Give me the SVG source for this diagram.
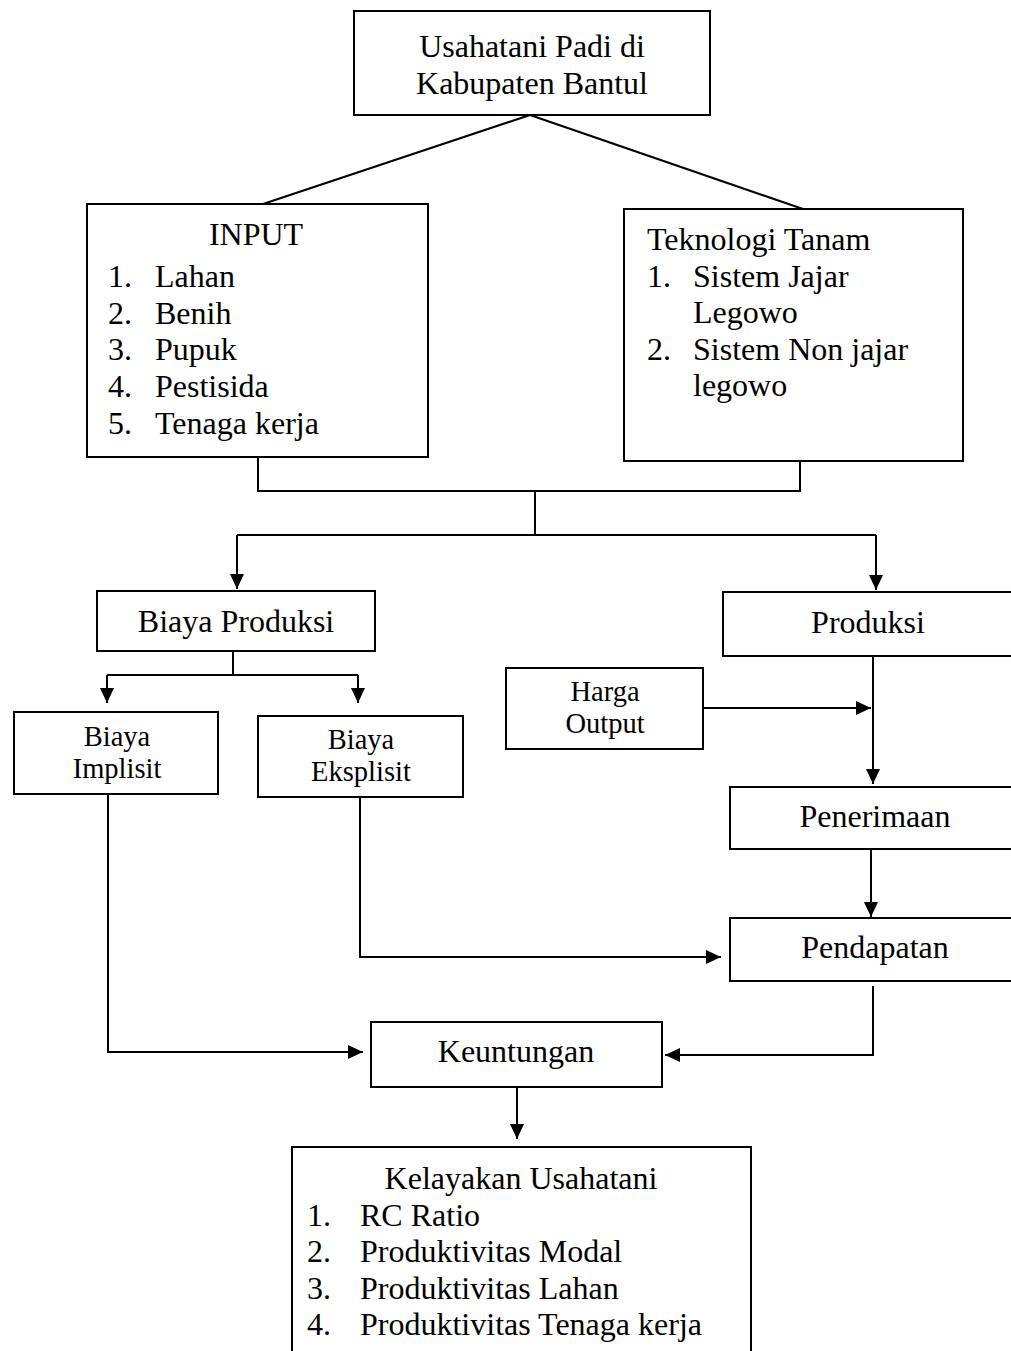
<svg xmlns="http://www.w3.org/2000/svg" width="1011" height="1351" viewBox="0 0 1011 1351">
<defs>
<style>
.box{fill:#fff;stroke:#000;stroke-width:2}
.ln{fill:none;stroke:#000;stroke-width:2}
text{font-family:"Liberation Serif","Times New Roman",serif;font-size:32px;fill:#000}
.c{text-anchor:middle}
.t2{font-size:28.5px}
</style>
<marker id="ah" markerUnits="userSpaceOnUse" markerWidth="16" markerHeight="16" viewBox="0 0 16 16" refX="15" refY="8" orient="auto">
<path d="M0,1 L15,8 L0,15 Z" fill="#000"/>
</marker>
</defs>
<g id="connectors">
<path class="ln" d="M530,115 L263,204"/>
<path class="ln" d="M530,115 L803,209"/>
<path class="ln" d="M258,457 V491 H800 V461"/>
<path class="ln" d="M535,491 V535"/>
<path class="ln" d="M237,535 H876"/>
<path class="ln" d="M237,535 V589" marker-end="url(#ah)"/>
<path class="ln" d="M876,535 V590" marker-end="url(#ah)"/>
<path class="ln" d="M233,651 V675"/>
<path class="ln" d="M107,675 H358"/>
<path class="ln" d="M107,675 V703" marker-end="url(#ah)"/>
<path class="ln" d="M358,675 V703" marker-end="url(#ah)"/>
<path class="ln" d="M703,708 H871" marker-end="url(#ah)"/>
<path class="ln" d="M873,656 V784" marker-end="url(#ah)"/>
<path class="ln" d="M871,850 V917" marker-end="url(#ah)"/>
<path class="ln" d="M360,797 V957 H721" marker-end="url(#ah)"/>
<path class="ln" d="M108,794 V1052 H363" marker-end="url(#ah)"/>
<path class="ln" d="M873,986 V1055 H665" marker-end="url(#ah)"/>
<path class="ln" d="M517,1087 V1139" marker-end="url(#ah)"/>
</g>
<g id="node-top">
<rect class="box" x="354" y="11" width="356" height="104"/>
<text class="c" x="532" y="57">Usahatani Padi di</text>
<text class="c" x="532" y="94">Kabupaten Bantul</text>
</g>
<g id="node-input">
<rect class="box" x="87" y="204" width="341" height="253"/>
<text class="c" x="256" y="245">INPUT</text>
<text x="108" y="287">1.</text><text x="155" y="287">Lahan</text>
<text x="108" y="324">2.</text><text x="155" y="324">Benih</text>
<text x="108" y="360">3.</text><text x="155" y="360">Pupuk</text>
<text x="108" y="397">4.</text><text x="155" y="397">Pestisida</text>
<text x="108" y="434">5.</text><text x="155" y="434">Tenaga kerja</text>
</g>
<g id="node-teknologi">
<rect class="box" x="624" y="209" width="339" height="252"/>
<text x="647" y="250">Teknologi Tanam</text>
<text x="647" y="287">1.</text><text x="693" y="287">Sistem Jajar</text>
<text x="693" y="323">Legowo</text>
<text x="647" y="360">2.</text><text x="693" y="360">Sistem Non jajar</text>
<text x="693" y="396">legowo</text>
</g>
<g id="node-biaya-produksi">
<rect class="box" x="97" y="591" width="278" height="60"/>
<text class="c" x="236" y="632">Biaya Produksi</text>
</g>
<g id="node-produksi">
<rect class="box" x="723" y="592" width="300" height="64"/>
<text class="c" x="868" y="633">Produksi</text>
</g>
<g id="node-harga-output">
<rect class="box" x="506" y="668" width="197" height="81"/>
<text class="c t2" x="605" y="701">Harga<tspan x="605" y="733">Output</tspan></text>
</g>
<g id="node-biaya-implisit">
<rect class="box" x="14" y="712" width="204" height="82"/>
<text class="c t2" x="117" y="746">Biaya<tspan x="117" y="778">Implisit</tspan></text>
</g>
<g id="node-biaya-eksplisit">
<rect class="box" x="258" y="716" width="205" height="81"/>
<text class="c t2" x="361" y="749">Biaya<tspan x="361" y="781">Eksplisit</tspan></text>
</g>
<g id="node-penerimaan">
<rect class="box" x="730" y="787" width="300" height="62"/>
<text class="c" x="875" y="827">Penerimaan</text>
</g>
<g id="node-pendapatan">
<rect class="box" x="730" y="918" width="300" height="63"/>
<text class="c" x="875" y="958">Pendapatan</text>
</g>
<g id="node-keuntungan">
<rect class="box" x="371" y="1022" width="291" height="65"/>
<text class="c" x="516" y="1062">Keuntungan</text>
</g>
<g id="node-kelayakan">
<rect class="box" x="292" y="1147" width="459" height="220"/>
<text class="c" x="521" y="1189">Kelayakan Usahatani</text>
<text x="307" y="1226">1.</text><text x="360" y="1226">RC Ratio</text>
<text x="307" y="1262">2.</text><text x="360" y="1262">Produktivitas Modal</text>
<text x="307" y="1299">3.</text><text x="360" y="1299">Produktivitas Lahan</text>
<text x="307" y="1335">4.</text><text x="360" y="1335">Produktivitas Tenaga kerja</text>
</g>
</svg>
